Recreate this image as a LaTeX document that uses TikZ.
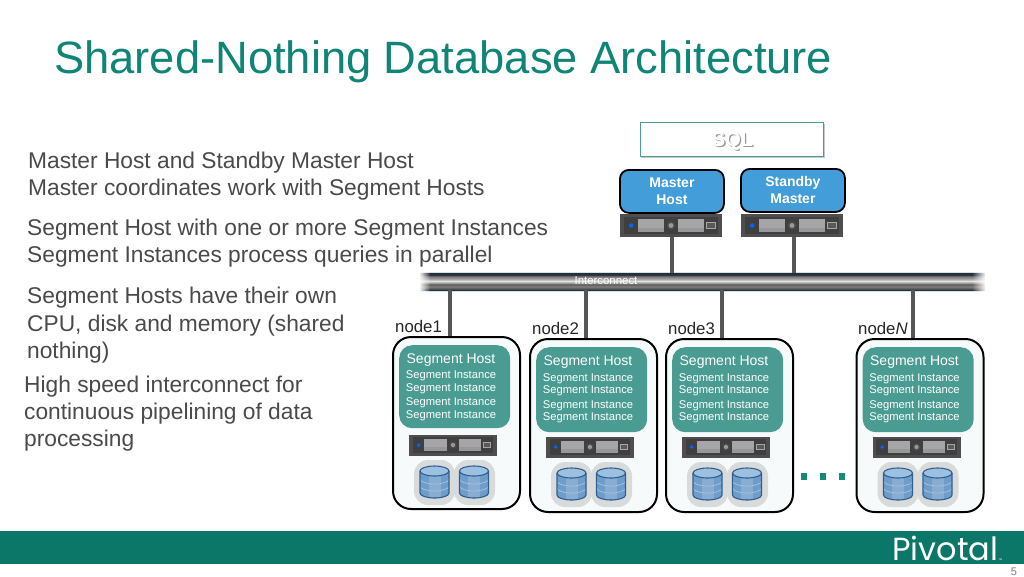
\documentclass[tikz,border=0pt]{standalone}
\usepackage{fontspec}
\setmainfont{Liberation Sans}
\newfontfamily\logofont{Poppins}
\usetikzlibrary{calc,fadings}
\definecolor{titleteal}{HTML}{0F8577}
\definecolor{bodygray}{HTML}{4A4A4A}
\definecolor{footteal}{HTML}{0B7769}
\definecolor{dotteal}{HTML}{158A7C}
\definecolor{segteal}{HTML}{4A9C93}
\definecolor{masterblue}{HTML}{429DD8}
\definecolor{linkgray}{HTML}{565656}
\definecolor{srvdark}{HTML}{4E4E4E}
\definecolor{srvin}{HTML}{3F3F40}
\definecolor{srvpanel}{HTML}{A6A6A8}
\definecolor{halo}{HTML}{D9DBDA}
\definecolor{drumblue}{HTML}{6E9CCB}
\definecolor{drumtop}{HTML}{9CC0E2}
\definecolor{drumline}{HTML}{2F5F8F}
\definecolor{nodefill}{HTML}{F6FAFA}
\definecolor{bushalo}{HTML}{CFE3EE}
\definecolor{busedge}{HTML}{222F3A}
\pgfdeclareverticalshading{busmetal}{100bp}{
  color(0bp)=(busedge);
  color(25bp)=(busedge);
  color(30bp)=(black!65);
  color(36bp)=(black!50);
  color(42bp)=(black!65);
  color(46bp)=(black!40);
  color(52bp)=(black!12);
  color(58bp)=(black!35);
  color(66bp)=(black!55);
  color(70bp)=(black!80);
  color(75bp)=(busedge);
  color(100bp)=(busedge)}
\tikzset{
  x=1pt,y=-1pt,
  bodytext/.style={anchor=base west,inner sep=0pt,text=bodygray,font=\fontsize{22.75}{26}\selectfont},
  nodebox/.style={draw=black,line width=2pt,fill=nodefill,rounded corners=18pt,inner sep=0pt},
  segbox/.style={fill=segteal,rounded corners=13pt,inner sep=0pt},
  hosttext/.style={text=white,inner sep=0pt,font=\fontsize{14}{16}\selectfont},
  insttext/.style={text=white,inner sep=0pt,font=\fontsize{11.2}{13}\selectfont},
  masterbox/.style={draw=black,line width=1.8pt,fill=masterblue,rounded corners=9pt,inner sep=0pt,align=center,text=white,font=\bfseries\fontsize{14}{17}\selectfont},
  srvbody/.style={fill=srvdark,inner sep=0pt},
  link/.style={draw=linkgray,line width=3.6pt},
  nodelabel/.style={inner sep=0pt,anchor=base west,text=black!85,font=\fontsize{16.8}{18}\selectfont}
}
% name, left, top, width, height
\newcommand{\srvunit}[5]{%
  \node[srvbody,minimum width=#4pt,minimum height=#5pt,anchor=north west] (#1) at (#2,#3) {};
  \begin{scope}[shift={(#2,#3)},x=#4pt/100,y=-#5pt/100]
    \fill[srvin] (4,12) rectangle (96,88);
    \fill[srvpanel] (17.5,22) rectangle (43,80);
    \fill[srvpanel] (57,22) rectangle (82,80);
    \fill[black!45,opacity=.5] (17.5,60) rectangle (43,80);
    \fill[black!45,opacity=.5] (57,60) rectangle (82,80);
    \fill[black!70] (50,50) circle[radius={#4*0.042pt}];
    \fill[black!40] (50,50) circle[radius={#4*0.024pt}];
    \fill[blue!60!cyan] (11,50) circle[radius={#4*0.022pt}];
    \draw[black!35,fill=black!65,line width=.7pt] (85,38) rectangle (93,62);
  \end{scope}}
% center x, center y
\newcommand{\drumshape}[2]{%
  \begin{scope}[shift={(#1,#2)}]
    \fill[drumblue] (-14.5,-11) -- (-14.5,11) arc[start angle=180,end angle=0,x radius=14.5,y radius=5] -- (14.5,-11) -- cycle;
    \fill[white,opacity=.18] (-6,-6) rectangle (6,15);
    \draw[drumline!40!white,line width=.8pt] (-14.5,-3) arc[start angle=180,end angle=0,x radius=14.5,y radius=5];
    \draw[drumline!40!white,line width=.8pt] (-14.5,4) arc[start angle=180,end angle=0,x radius=14.5,y radius=5];
    \draw[drumline,line width=1.1pt] (-14.5,-11) -- (-14.5,11) arc[start angle=180,end angle=0,x radius=14.5,y radius=5] -- (14.5,-11);
    \draw[drumline,line width=1.1pt,fill=drumtop] (0,-11) ellipse[x radius=14.5,y radius=5];
  \end{scope}}
% id, left, top, height, segheight, labelx, labely, label, tapx
\newcommand{\segnode}[9]{%
  \node[nodebox,minimum width=127pt,minimum height=#4pt,anchor=north west] (nb#1) at (#2,#3) {};
  \node[segbox,minimum width=111pt,minimum height=#5pt,anchor=north west] (sb#1) at (#2+7,#3+9) {};
  \node[nodelabel] (lb#1) at (#6,#7) {#8};
  \coordinate (tap#1) at (#9,#3);
  \srvunit{srv#1}{#2+17}{#3+98.5}{88}{21}
  \fill[halo,rounded corners=14pt] (#2+22,#3+124) rectangle (#2+63,#3+169);
  \fill[halo,rounded corners=14pt] (#2+62,#3+124) rectangle (#2+103,#3+169);
  \drumshape{#2+42.5}{#3+146}
  \drumshape{#2+82}{#3+146}
  \draw[link] (tap#1 |- bus.south) -- (tap#1);
  \segtexts{#1}{#2}{#3}}
\newcommand{\segtexts}[3]{%
  \node[hosttext] (ht#1) at (#2+59,#3+\hostdy) {Segment Host};
  \node[insttext] (ia#1) at (#2+59,#3+\ia) {Segment Instance};
  \node[insttext] (ib#1) at (#2+59,#3+\ib) {Segment Instance};
  \node[insttext] (ic#1) at (#2+59,#3+\ic) {Segment Instance};
  \node[insttext] (id#1) at (#2+59,#3+\id) {Segment Instance};}
\begin{document}
\begin{tikzpicture}
\useasboundingbox (0,0) rectangle (1024,576);
\fill[white] (0,0) rectangle (1024,576);
\node[anchor=base west,inner sep=0pt,text=titleteal,font=\fontsize{45.3}{48}\selectfont] (title) at (54,73) {Shared-Nothing Database Architecture};
% left text
\node[bodytext] (t1) at (28,168) {Master Host and Standby Master Host};
\node[bodytext] (t2) at (28,195) {Master coordinates work with Segment Hosts};
\node[bodytext] (t3) at (27,235) {Segment Host with one or more Segment Instances};
\node[bodytext] (t4) at (27,262) {Segment Instances process queries in parallel};
\node[bodytext] (t5) at (27,303) {Segment Hosts have their own};
\node[bodytext] (t6) at (27,331) {CPU, disk and memory (shared};
\node[bodytext] (t7) at (27,358) {nothing)};
\node[bodytext] (t8) at (24,392) {High speed interconnect for};
\node[bodytext] (t9) at (24,419) {continuous pipelining of data};
\node[bodytext] (t10) at (24,446) {processing};
% SQL
\fill[black!22] (641,124) rectangle (825,158);
\node[draw=segteal,line width=1.2pt,fill=white,minimum width=183pt,minimum height=34pt,inner sep=0pt,anchor=north west] (sql) at (640,122) {};
\node[text=black!40,font=\bfseries\fontsize{20}{22}\selectfont,inner sep=0pt] at (733.8,142.3) {SQL};
\node[text=white,font=\bfseries\fontsize{20}{22}\selectfont,inner sep=0pt] (sqltext) at (732.5,141) {SQL};
% bus
\fill[bushalo] (420,271.5) rectangle (985,291.5);
\node[inner sep=0pt,minimum width=565pt,minimum height=17pt,anchor=north west,shading=busmetal] (bus) at (420,273) {};
\fill[white,path fading=east] (419,270) rectangle (430,293);
\fill[white,path fading=west] (972,270) rectangle (986,293);
\node[text=white,inner sep=0pt,font=\fontsize{11.4}{12}\selectfont] (bustext) at (606,281) {Interconnect};
% masters
\srvunit{srvm}{620}{214}{102}{23}
\srvunit{srvs}{741}{214}{102}{23}
\node[masterbox,minimum width=104pt,minimum height=43pt,anchor=north west] (mhost) at (619,169) {\raisebox{-1pt}{Master}\\\raisebox{-1pt}{Host}};
\node[masterbox,minimum width=104pt,minimum height=43pt,anchor=north west] (shost) at (740,168) {\raisebox{-1pt}{Standby}\\\raisebox{-1pt}{Master}};
\draw[link] ([xshift=1pt]srvm.south) -- ([xshift=1pt]srvm.south |- bus.north);
\draw[link] ([xshift=2pt]srvs.south) -- ([xshift=2pt]srvs.south |- bus.north);
% segment nodes
\def\hostdy{24}\def\ia{40}\def\ib{53}\def\ic{67}\def\id{80}
\segnode{a}{392}{336}{172}{83}{395}{332}{node1}{450}
\def\hostdy{24.5}\def\ia{41}\def\ib{53}\def\ic{68}\def\id{80}
\segnode{b}{529}{338}{173}{85}{532}{334}{node2}{586}
\segnode{c}{665}{338}{173}{85}{668}{334}{node3}{722}
\segnode{d}{855.5}{338}{173}{85}{858}{334}{node\textit{N}}{913}
% dots
\fill[dotteal] (801,473) rectangle (807,479.5);
\fill[dotteal] (819.5,473) rectangle (825.5,479.5);
\fill[dotteal] (838.5,473) rectangle (844.5,479.5);
% footer
\fill[footteal] (0,531) rectangle (1024,564);
\node[anchor=base west,inner sep=0pt,text=white,font=\logofont\fontsize{32}{36}\selectfont] (logo) at (892,560) {Pivotal};
\node[anchor=base west,inner sep=0pt,text=white,font=\fontsize{2.5}{3}\selectfont] (tm) at (998.5,560) {TM};
\node[anchor=base,inner sep=0pt,text=black!50,font=\fontsize{11}{12}\selectfont] (pg) at (1014,575) {5};
\end{tikzpicture}
\end{document}
